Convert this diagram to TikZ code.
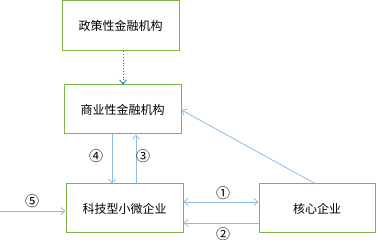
\documentclass[tikz,border=0pt]{standalone}
\usepackage{fontspec}
\newfontfamily\cjk{Noto Sans CJK SC}
\usetikzlibrary{arrows.meta}
\definecolor{boxgreen}{HTML}{7AB648}
\definecolor{lblue}{HTML}{8FBCE6}
\definecolor{dblue}{HTML}{2E6DB4}
\tikzset{
  box/.style={draw=boxgreen, line width=1pt, fill=white, inner sep=0pt, font=\cjk\fontsize{12}{14}\selectfont},
  conn/.style={draw=lblue, line width=0.8pt, -{Straight Barb[length=4pt,width=7pt]}},
  lbl/.style={font=\cjk\fontsize{14}{16}\selectfont, inner sep=0pt}
}
\begin{document}
\begin{tikzpicture}[x=1pt,y=-1pt]
\useasboundingbox[fill=white] (0,0) rectangle (378,240);
\node[box, minimum width=117pt, minimum height=50pt] (pol) at (120.5,26) {政策性金融机构};
\node[box, minimum width=117pt, minimum height=49pt] (com) at (122.5,109.5) {商业性金融机构};
\node[box, minimum width=117pt, minimum height=49pt] (sme) at (124.5,208.5) {科技型小微企业};
\node[box, minimum width=116pt, minimum height=49pt] (core) at (317,208.5) {核心企业};
\coordinate (in5) at (0,211);
\draw[draw=dblue, line width=0.8pt, dotted, -{Straight Barb[length=4pt,width=7pt]}] (pol.south -| 123,0) -- (com.north -| 123,0);
\draw[conn] (com.south -| 112,0) -- (sme.north -| 112,0);
\draw[conn] (sme.north -| 136,0) -- (com.south -| 136,0);
\draw[conn, {Straight Barb[length=4pt,width=7pt]}-{Straight Barb[length=4pt,width=7pt]}] (sme.east |- 0,202) -- (core.west |- 0,202);
\draw[conn] (core.west |- 0,223) -- (sme.east |- 0,223);
\draw[conn] (in5) -- (sme.west |- in5);
\draw[conn] (core.north -| 315,0) -- (com.east |- 0,110);
\node[lbl] (l4) at (96,156) {④};
\node[lbl] (l3) at (143,156) {③};
\node[lbl] (l1) at (223,193) {①};
\node[lbl] (l2) at (223,234) {②};
\node[lbl] (l5) at (32,201) {⑤};
\end{tikzpicture}
\end{document}
